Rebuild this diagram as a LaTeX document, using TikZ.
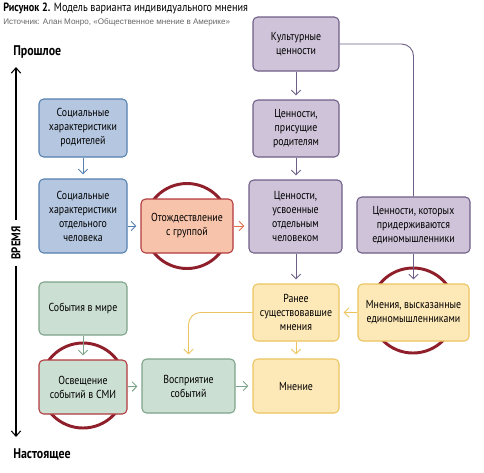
\documentclass[tikz,border=0pt]{standalone}
\usepackage{fontspec}
\setmainfont[FakeStretch=0.85]{PT Sans}
\newfontfamily\srcfont{Liberation Sans}
\usepackage{xcolor}
\usetikzlibrary{arrows.meta,positioning}

\definecolor{socFill}{HTML}{B5C7E0}
\definecolor{socLine}{HTML}{5580B0}
\definecolor{valFill}{HTML}{CEC3D8}
\definecolor{valLine}{HTML}{6F5F88}
\definecolor{idFill}{HTML}{F7C3AA}
\definecolor{idLine}{HTML}{B23A3E}
\definecolor{idArr}{HTML}{E0704A}
\definecolor{evFill}{HTML}{CCDFD3}
\definecolor{evLine}{HTML}{7DA38A}
\definecolor{opFill}{HTML}{FDE8B8}
\definecolor{opLine}{HTML}{EBC460}
\definecolor{ringRed}{HTML}{8F1F2B}

\begin{document}
\begin{tikzpicture}[x=0.75pt,y=-0.75pt]
  \tikzstyle{box} = [draw, rounded corners=3.5pt, line width=0.8pt, align=center, inner sep=2pt, font=\fontsize{8.7}{10.5}\selectfont]
  \tikzstyle{soc} = [box, fill=socFill, draw=socLine]
  \tikzstyle{val} = [box, fill=valFill, draw=valLine]
  \tikzstyle{ident} = [box, fill=idFill, draw=idLine]
  \tikzstyle{event} = [box, fill=evFill, draw=evLine]
  \tikzstyle{op} = [box, fill=opFill, draw=opLine]
  \tikzstyle{ring} = [circle, draw=ringRed, line width=2.2pt, minimum size=63.75pt, inner sep=0pt]
  \tikzstyle{flow} = [-{Straight Barb[length=3.5pt,width=7pt]}, line width=0.7pt, shorten >=3pt]
  \tikzstyle{axis} = [-{Straight Barb[length=4pt,width=7pt]}, line width=0.8pt, black]

  \useasboundingbox (0,0) rectangle (484,472);

  % heading
  \node[anchor=west, inner sep=0pt, font=\fontsize{9}{10}\selectfont] (title) at (3,8) {\textbf{Рисунок 2.} Модель варианта индивидуального мнения};
  \node[anchor=west, inner sep=0pt, text=black!60, font=\srcfont\fontsize{6.05}{7}\selectfont] (source) at (3,22) {Источник: Алан Монро, «Общественное мнение в Америке»};

  % time axis
  \node[anchor=west, inner sep=0pt, font=\bfseries\fontsize{10.5}{12}\selectfont] (past) at (13,52) {Прошлое};
  \node[anchor=west, inner sep=0pt, font=\bfseries\fontsize{10.5}{12}\selectfont] (now) at (13,454) {Настоящее};
  \node[rotate=90, inner sep=4.5pt, font=\bfseries\fontsize{9.5}{11}\selectfont] (time) at (16,243) {ВРЕМЯ};
  \coordinate (tip_up) at (16,67);
  \coordinate (tip_down) at (16,437);
  \draw[axis] (time.east) -- (tip_up);
  \draw[axis] (time.west) -- (tip_down);

  % rings behind the boxes
  \node[ring] (ring_ident) at (187,226) {};
  \node[ring] (ring_grp) at (413,310.5) {};
  \node[ring] (ring_media) at (83,385.5) {};

  % social characteristics
  \node[soc, minimum width=66pt, minimum height=43.5pt] (soc_par) at (83,128) {Социальные\\характеристики\\родителей};
  \node[soc, minimum width=66pt, minimum height=55.5pt] (soc_ind) at (83,216) {Социальные\\характеристики\\отдельного\\человека};
  \node[ident, minimum width=69pt, minimum height=40.5pt] (ident) at (187,226) {Отождествление\\с группой};

  % values
  \node[val, minimum width=64.5pt, minimum height=40.5pt] (cult) at (296,44) {Культурные\\ценности};
  \node[val, minimum width=64.5pt, minimum height=42.75pt] (val_par) at (296,128.5) {Ценности,\\присущие\\родителям};
  \node[val, minimum width=69.75pt, minimum height=54.75pt] (val_ind) at (295.5,216.5) {Ценности,\\усвоенные\\отдельным\\человеком};
  \node[val, minimum width=84.75pt, minimum height=42pt] (val_grp) at (413.5,225) {Ценности, которых\\придерживаются\\единомышленники};

  % opinions
  \node[op, minimum width=64.5pt, minimum height=42.75pt] (earlier) at (296,312.5) {Ранее\\существовавшие\\мнения};
  \node[op, minimum width=83.25pt, minimum height=42.75pt] (grp_op) at (413.5,312.5) {Мнения, высказанные\\единомышленниками};
  \node[op, minimum width=64.5pt, minimum height=40.5pt] (opinion) at (296,386) {Мнение};

  % events
  \node[event, minimum width=66pt, minimum height=39.75pt] (events) at (83,308.5) {События в мире};
  \node[event, draw=idLine, minimum width=66pt, minimum height=40.5pt] (media) at (83,387) {Освещение\\событий в СМИ};
  \node[event, minimum width=69.75pt, minimum height=40.5pt] (percep) at (188.5,386) {Восприятие\\событий};

  % connectors
  \draw[flow, draw=socLine] (soc_par) -- (soc_ind);
  \draw[flow, draw=socLine] (soc_ind.east |- ident) -- (ident);
  \draw[flow, draw=idArr] (ident) -- (val_ind.west |- ident);

  \draw[flow, draw=valLine] (cult) -- (val_par);
  \draw[flow, draw=valLine] (val_par) -- (val_ind.north -| val_par);
  \draw[line width=0.7pt, draw=valLine, rounded corners=9pt] (cult.east) -| (val_grp);
  \draw[flow, draw=valLine] (val_ind.south -| earlier) -- (earlier);
  \draw[flow, draw=valLine] (val_grp) -- (grp_op);

  \draw[flow, draw=opLine] (grp_op) -- (earlier);
  \draw[flow, draw=opLine] (earlier) -- (opinion);
  \draw[flow, draw=opLine, rounded corners=9pt] (earlier.west) -| (percep);

  \draw[flow, draw=evLine] (events) -- (media);
  \draw[flow, draw=evLine] (media) -- (percep);
  \draw[flow, draw=evLine] (percep) -- (opinion);
\end{tikzpicture}
\end{document}
